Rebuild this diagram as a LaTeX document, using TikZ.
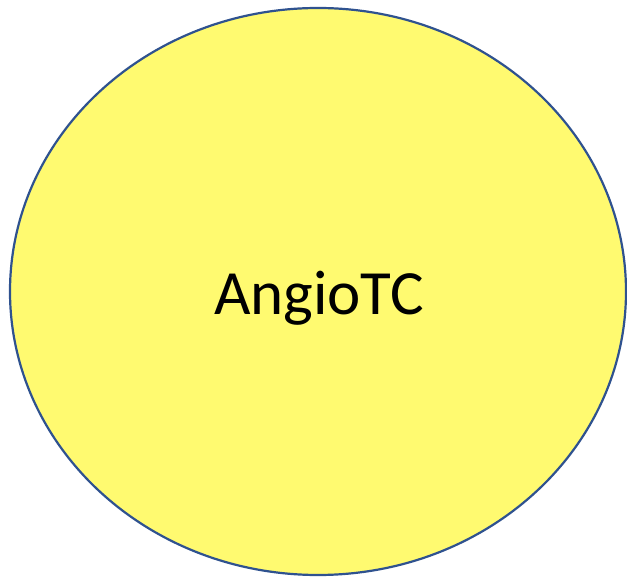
\documentclass[tikz,border=0pt]{standalone}
\usepackage{fontspec}
\setmainfont{Carlito}
\usetikzlibrary{shapes.geometric}
\definecolor{fillyel}{RGB}{255,250,112}
\definecolor{edgeblue}{RGB}{47,82,143}
\begin{document}
\begin{tikzpicture}[x=1pt,y=-1pt,
  blob/.style={ellipse,draw=edgeblue,fill=fillyel,line width=2.2pt,minimum width=616pt,minimum height=567pt,inner sep=0pt},
  lbl/.style={font=\fontsize{63}{76}\selectfont,text=black}]
\useasboundingbox (0,0) rectangle (627,577);
\node[blob] (e) at (318,291.5) {};
\node[lbl,anchor=base] (t) at (319,315) {AngioTC};
\end{tikzpicture}
\end{document}
